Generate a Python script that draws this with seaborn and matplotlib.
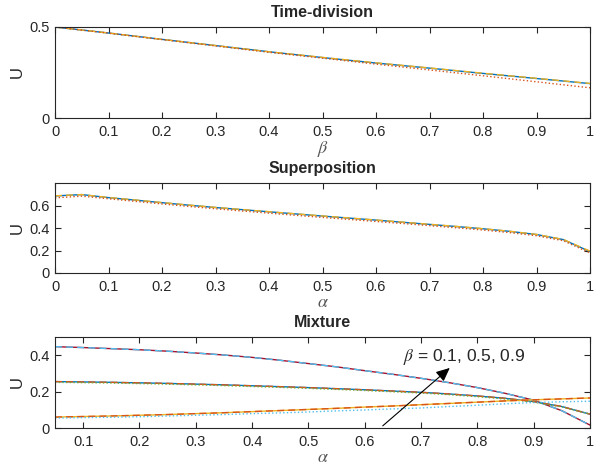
import numpy as np
import pandas as pd
import matplotlib
matplotlib.use('Agg')
import matplotlib.pyplot as plt
import seaborn as sns

sns.set_style('ticks')
plt.rcParams['font.family'] = ['Liberation Sans', 'DejaVu Sans']
plt.rcParams['mathtext.fontset'] = 'stix'

# --- data ---
beta = [0.0, 0.1, 0.2, 0.3, 0.4, 0.5, 0.6, 0.7, 0.8, 0.9, 1.0]
td_solid = [0.500, 0.467, 0.432, 0.398, 0.364, 0.332, 0.302, 0.274, 0.245, 0.217, 0.189]
td_dashed = [0.500, 0.467, 0.432, 0.398, 0.364, 0.333, 0.303, 0.275, 0.246, 0.218, 0.190]
td_dotted = [0.500, 0.466, 0.431, 0.396, 0.361, 0.329, 0.296, 0.264, 0.232, 0.199, 0.166]

alpha_sp = [0.0, 0.05, 0.1, 0.15, 0.2, 0.25, 0.3, 0.35, 0.4, 0.45, 0.5,
            0.55, 0.6, 0.65, 0.7, 0.75, 0.8, 0.85, 0.9, 0.95, 1.0]
sp_solid = [0.685, 0.697, 0.670, 0.648, 0.625, 0.603, 0.582, 0.563, 0.544, 0.525, 0.506,
            0.488, 0.470, 0.451, 0.432, 0.413, 0.393, 0.370, 0.342, 0.297, 0.190]
sp_dashed = [0.686, 0.697, 0.671, 0.649, 0.626, 0.604, 0.583, 0.564, 0.545, 0.526, 0.507,
             0.489, 0.471, 0.452, 0.433, 0.414, 0.394, 0.371, 0.343, 0.298, 0.195]
sp_dotted = [0.668, 0.683, 0.660, 0.637, 0.614, 0.592, 0.571, 0.551, 0.532, 0.513, 0.494,
             0.476, 0.458, 0.440, 0.421, 0.402, 0.382, 0.359, 0.331, 0.287, 0.178]

alpha_mx = [0.05, 0.1, 0.15, 0.2, 0.25, 0.3, 0.35, 0.4, 0.45, 0.5,
            0.55, 0.6, 0.65, 0.7, 0.75, 0.8, 0.85, 0.9, 0.95, 1.0]
mx_b01 = [0.447, 0.442, 0.436, 0.430, 0.422, 0.412, 0.401, 0.388, 0.372, 0.354,
          0.336, 0.315, 0.295, 0.273, 0.249, 0.222, 0.190, 0.153, 0.095, 0.016]
mx_b05 = [0.255, 0.253, 0.251, 0.248, 0.245, 0.241, 0.237, 0.232, 0.227, 0.222,
          0.216, 0.210, 0.203, 0.196, 0.187, 0.176, 0.163, 0.145, 0.118, 0.076]
mx_b05_dot = [0.251, 0.249, 0.247, 0.244, 0.241, 0.237, 0.233, 0.228, 0.223, 0.218,
              0.212, 0.206, 0.199, 0.192, 0.183, 0.172, 0.159, 0.142, 0.116, 0.076]
mx_b09 = [0.060, 0.063, 0.066, 0.070, 0.074, 0.079, 0.084, 0.090, 0.096, 0.102,
          0.108, 0.115, 0.121, 0.128, 0.135, 0.142, 0.149, 0.155, 0.160, 0.165]
mx_b09_dot = [0.055, 0.057, 0.059, 0.062, 0.066, 0.070, 0.074, 0.079, 0.083, 0.088,
              0.094, 0.099, 0.105, 0.110, 0.118, 0.125, 0.133, 0.140, 0.144, 0.147]

c_blue, c_orange, c_yellow = '#0072BD', '#D95319', '#EDB120'
c_green, c_lblue, c_red = '#77AC30', '#4DBEEE', '#A2142F'

fig = plt.figure(figsize=(6.07, 4.68), dpi=100)
W, H = 607, 468


def make_ax(top, bottom):
    return fig.add_axes([55 / W, 1 - bottom / H, 535 / W, (bottom - top) / H])


def style(ax, title, xlabel):
    ax.set_title(title, fontsize=11.5, fontweight='bold', pad=7)
    ax.set_xlabel(xlabel, fontsize=13, labelpad=0, color='#555555')
    ax.set_ylabel('U', fontsize=12, labelpad=3, color='#262626')
    ax.tick_params(direction='in', top=True, right=True, length=4,
                   labelsize=10.5, colors='#262626', pad=4)
    ax.tick_params(axis='x', pad=5)
    for s in ax.spines.values():
        s.set_visible(True)
        s.set_linewidth(0.8)
        s.set_color('#262626')


def line(ax, x, y, color, ls):
    sns.lineplot(x=x, y=y, ax=ax, color=color, linestyle=ls, lw=1.0)


ticks01 = ['0', '0.1', '0.2', '0.3', '0.4', '0.5', '0.6', '0.7', '0.8', '0.9', '1']

# --- Time-division ---
ax1 = make_ax(27, 118)
line(ax1, beta, td_solid, c_blue, '-')
line(ax1, beta, td_dashed, c_yellow, (0, (5, 3)))
line(ax1, beta, td_dotted, c_orange, ':')
ax1.set_xlim(0, 1)
ax1.set_ylim(0, 0.5)
ax1.set_xticks(np.arange(0, 1.01, 0.1))
ax1.set_xticklabels(ticks01)
ax1.set_yticks([0, 0.5])
ax1.set_yticklabels(['0', '0.5'])
style(ax1, 'Time-division', r'$\beta$')

# --- Superposition ---
ax2 = make_ax(183, 273)
line(ax2, alpha_sp, sp_solid, c_blue, '-')
line(ax2, alpha_sp, sp_dashed, c_yellow, (0, (5, 3)))
line(ax2, alpha_sp, sp_dotted, c_orange, ':')
ax2.set_xlim(0, 1)
ax2.set_ylim(0, 0.8)
ax2.set_xticks(np.arange(0, 1.01, 0.1))
ax2.set_xticklabels(ticks01)
ax2.set_yticks([0, 0.2, 0.4, 0.6])
ax2.set_yticklabels(['0', '0.2', '0.4', '0.6'])
style(ax2, 'Superposition', r'$\alpha$')

# --- Mixture ---
ax3 = make_ax(337, 428)
line(ax3, alpha_mx, mx_b01, c_red, '-')
line(ax3, alpha_mx, mx_b01, c_lblue, (0, (5, 3)))
line(ax3, alpha_mx, mx_b05, c_blue, '-')
line(ax3, alpha_mx, mx_b05, c_orange, (0, (5, 3)))
line(ax3, alpha_mx, mx_b05_dot, c_green, ':')
line(ax3, alpha_mx, mx_b09, c_yellow, '-')
line(ax3, alpha_mx, mx_b09, c_orange, (0, (5, 3)))
line(ax3, alpha_mx, mx_b09_dot, c_lblue, ':')
ax3.set_xlim(0.05, 1)
ax3.set_ylim(0, 0.5)
ax3.set_xticks(np.arange(0.1, 1.01, 0.1))
ax3.set_xticklabels(ticks01[1:])
ax3.set_yticks([0, 0.2, 0.4])
ax3.set_yticklabels(['0', '0.2', '0.4'])
style(ax3, 'Mixture', r'$\alpha$')
ax3.annotate('', xy=(0.751, 0.33), xytext=(0.632, 0.012),
             arrowprops=dict(arrowstyle='-|>,head_length=0.55,head_width=0.25',
                             lw=0.8, color='black', mutation_scale=15,
                             shrinkA=0, shrinkB=0))
ax3.text(0.668, 0.39, r'$\beta$ = 0.1, 0.5, 0.9', fontsize=12.5, va='center')

fig.savefig('out.png', dpi=100)
